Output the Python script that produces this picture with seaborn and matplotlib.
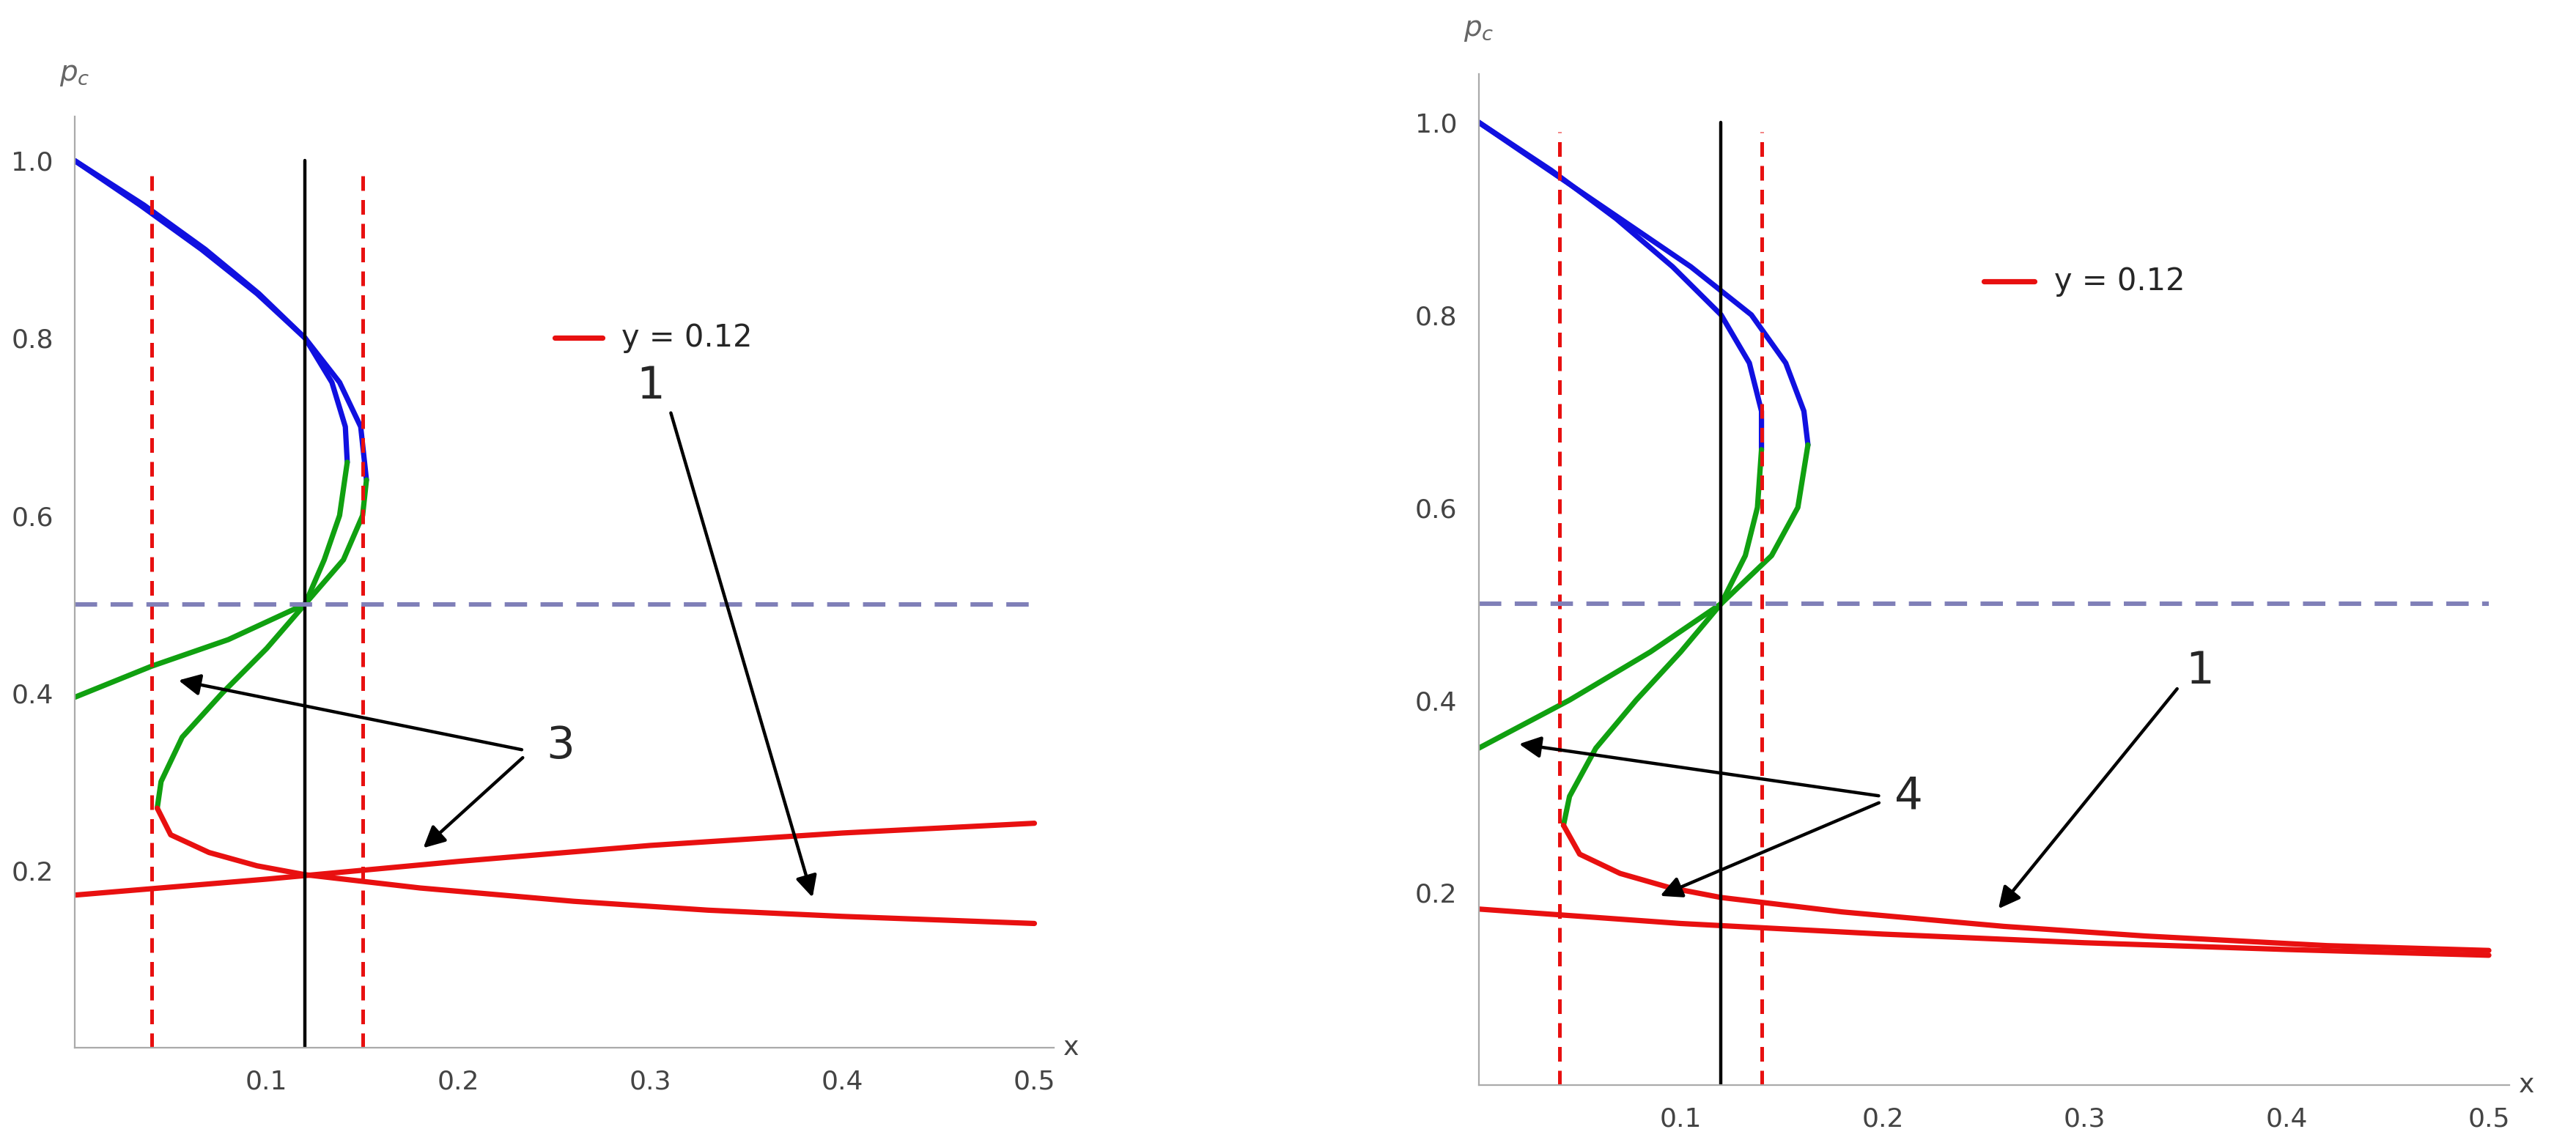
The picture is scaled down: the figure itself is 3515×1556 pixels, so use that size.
import matplotlib
matplotlib.use("Agg")
import matplotlib.pyplot as plt
import seaborn as sns
import pandas as pd

sns.set_style("white")
plt.rcParams['font.family'] = ['DejaVu Sans']

# ---- Left panel data (x as function of p_c) ----
L_blueA_p = [1.0, 0.95, 0.9, 0.85, 0.8, 0.75, 0.7, 0.66]
L_blueA_x = [0.0, 0.036, 0.068, 0.096, 0.12, 0.134, 0.141, 0.142]
L_blueB_p = [1.0, 0.95, 0.9, 0.85, 0.8, 0.75, 0.7, 0.64]
L_blueB_x = [0.0, 0.034, 0.066, 0.095, 0.12, 0.138, 0.149, 0.152]
L_greenA_p = [0.66, 0.6, 0.55, 0.5, 0.45, 0.4, 0.35, 0.3, 0.27]
L_greenA_x = [0.142, 0.138, 0.130, 0.12, 0.100, 0.077, 0.056, 0.045, 0.043]
L_redA_p = [0.27, 0.24, 0.22, 0.205, 0.195, 0.18, 0.165, 0.155, 0.148, 0.14]
L_redA_x = [0.043, 0.05, 0.07, 0.095, 0.12, 0.18, 0.26, 0.33, 0.4, 0.5]
L_greenB_p = [0.64, 0.6, 0.55, 0.5, 0.46, 0.43, 0.395]
L_greenB_x = [0.152, 0.15, 0.14, 0.12, 0.08, 0.04, 0.0]
L_redB_x = [0.0, 0.1, 0.2, 0.3, 0.4, 0.5]
L_redB_p = [0.172, 0.19, 0.21, 0.228, 0.242, 0.253]
L_vdash = [0.04, 0.15]

# ---- Right panel data ----
R_blueC_p = [1.0, 0.95, 0.9, 0.85, 0.8, 0.75, 0.7, 0.66]
R_blueC_x = [0.0, 0.036, 0.068, 0.096, 0.12, 0.134, 0.14, 0.14]
R_blueD_p = [1.0, 0.95, 0.9, 0.85, 0.8, 0.75, 0.7, 0.665]
R_blueD_x = [0.0, 0.035, 0.07, 0.105, 0.135, 0.152, 0.161, 0.163]
R_greenC_p = [0.66, 0.6, 0.55, 0.5, 0.45, 0.4, 0.35, 0.3, 0.27]
R_greenC_x = [0.14, 0.138, 0.132, 0.12, 0.1, 0.078, 0.058, 0.045, 0.042]
R_redC_p = [0.27, 0.24, 0.22, 0.205, 0.195, 0.18, 0.165, 0.155, 0.145, 0.14]
R_redC_x = [0.042, 0.05, 0.07, 0.095, 0.12, 0.18, 0.26, 0.33, 0.42, 0.5]
R_greenD_p = [0.665, 0.6, 0.55, 0.5, 0.45, 0.4, 0.35]
R_greenD_x = [0.163, 0.158, 0.145, 0.12, 0.085, 0.045, 0.0]
R_redD_x = [0.0, 0.1, 0.2, 0.3, 0.4, 0.5]
R_redD_p = [0.183, 0.168, 0.157, 0.148, 0.141, 0.135]
R_vdash = [0.04, 0.14]

x_ticks = [0.1, 0.2, 0.3, 0.4, 0.5]
y_ticks = [0.2, 0.4, 0.6, 0.8, 1.0]
y_value = 0.12

fig = plt.figure(figsize=(17.575, 7.78), dpi=200)
axL = fig.add_axes([0.029, 0.081, 0.38, 0.817])
axR = fig.add_axes([0.574, 0.048, 0.4, 0.887])

BLUE, GREEN, RED = "#1010e0", "#10a010", "#e81010"


def curve(ax, xs, ps, color, label=None):
    df = pd.DataFrame({"x": xs, "p": ps})
    sns.lineplot(data=df, x="x", y="p", sort=False, estimator=None, ax=ax,
                 color=color, lw=2.6, label=label, legend=False)


def panel(ax, curves, vdash, legpos, anns):
    for xs, ps, c in curves:
        curve(ax, xs, ps, c)
    for v in vdash:
        ax.plot([v, v], [0, 0.99], ls=(0, (4, 2.5)), color=RED, lw=1.8)
    ax.plot([y_value, y_value], [0, 1.0], color="black", lw=1.6)
    ax.plot([0, 0.5], [0.5, 0.5], ls=(0, (5, 3)), color="#8080b8", lw=2.2)
    ax.set_xlim(0, 0.51)
    ax.set_ylim(0, 1.05)
    ax.set_xticks(x_ticks)
    ax.set_yticks(y_ticks)
    ax.set_xticks([i / 100 for i in range(0, 51) if i % 10], minor=True)
    ax.set_yticks([i / 20 for i in range(0, 21) if i % 4], minor=True)
    ax.tick_params(labelsize=13, colors="#444444", length=7, width=1)
    ax.tick_params(which="minor", length=4, width=0.8, colors="#999999")
    for s in ["top", "right"]:
        ax.spines[s].set_visible(False)
    for s in ["left", "bottom"]:
        ax.spines[s].set_color("#aaaaaa")
    ax.set_xlabel("")
    ax.set_ylabel("")
    ax.text(0.515, 0.0, "x", fontsize=13, color="#444444", va="center", clip_on=False)
    ax.text(0.0, 1.09, "$p_c$", fontsize=14, color="#666666", ha="center", clip_on=False)
    lx, ly = legpos
    ax.plot([lx, lx + 0.025], [ly, ly], color=RED, lw=2.6)
    ax.text(lx + 0.035, ly, f"y = {y_value}", fontsize=15, va="center")
    for label, (tx, ty), targets in anns:
        ax.text(tx, ty, label, fontsize=22, ha="center", va="center")
        for (sx, sy), (ex, ey) in targets:
            ax.annotate("", xy=(ex, ey), xytext=(sx, sy),
                        arrowprops=dict(arrowstyle="-|>", color="black", lw=1.6,
                                        mutation_scale=22))


panel(axL,
      [(L_blueA_x, L_blueA_p, BLUE), (L_blueB_x, L_blueB_p, BLUE),
       (L_greenA_x, L_greenA_p, GREEN), (L_greenB_x, L_greenB_p, GREEN),
       (L_redA_x, L_redA_p, RED), (L_redB_x, L_redB_p, RED)],
      L_vdash, (0.25, 0.8),
      [("1", (0.3, 0.745), [((0.31, 0.72), (0.385, 0.165))]),
       ("3", (0.253, 0.34), [((0.235, 0.335), (0.052, 0.415)),
                              ((0.235, 0.33), (0.18, 0.222))])])

panel(axR,
      [(R_blueC_x, R_blueC_p, BLUE), (R_blueD_x, R_blueD_p, BLUE),
       (R_greenC_x, R_greenC_p, GREEN), (R_greenD_x, R_greenD_p, GREEN),
       (R_redC_x, R_redC_p, RED), (R_redD_x, R_redD_p, RED)],
      R_vdash, (0.25, 0.835),
      [("1", (0.357, 0.43), [((0.347, 0.415), (0.256, 0.18))]),
       ("4", (0.213, 0.3), [((0.2, 0.3), (0.018, 0.355)),
                             ((0.2, 0.295), (0.088, 0.195))])])

fig.savefig("out.png", dpi=200, facecolor="white")
